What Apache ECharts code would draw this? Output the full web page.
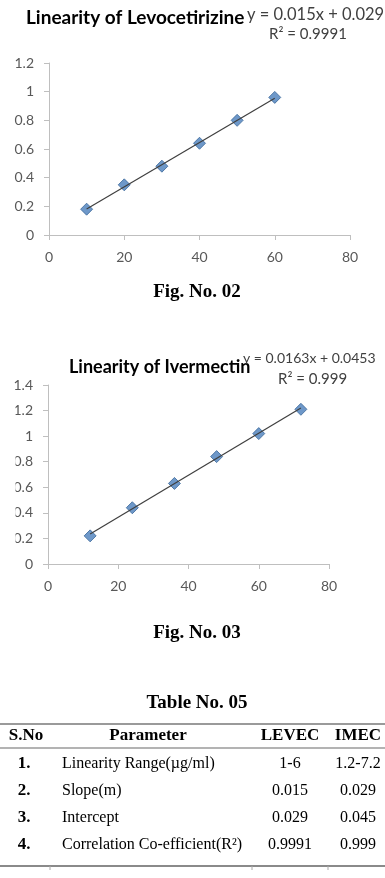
<!DOCTYPE html>
<html>
<head>
<meta charset="utf-8">
<script src="https://cdn.jsdelivr.net/npm/echarts@6/dist/echarts.min.js"></script>
<style>
html,body{margin:0;padding:0;background:#fff;}
#main{width:385px;height:878px;}
</style>
</head>
<body>
<div id="main"></div>
<script>
/* Linearity plots (Fig 02, Fig 03) + Table No. 05 */
var levoConc = [10, 20, 30, 40, 50, 60];
var levoAbs = [0.18, 0.35, 0.48, 0.64, 0.80, 0.96];
var iverConc = [12, 24, 36, 48, 60, 72];
var iverAbs = [0.22, 0.44, 0.63, 0.84, 1.02, 1.21];

var levoEq = ['y = 0.015x + 0.029', 'R\u00b2 = 0.9991'];
var iverEq = ['y = 0.0163x + 0.0453', 'R\u00b2 = 0.999'];

var tableHead = ['S.No', 'Parameter', 'LEVEC', 'IMEC'];
var sNo = ['1.', '2.', '3.', '4.'];
var params = ['Linearity Range(\u00b5g/ml)', 'Slope(m)', 'Intercept', 'Correlation Co-efficient(R\u00b2)'];
var levecVals = ['1-6', '0.015', '0.029', '0.9991'];
var imecVals = ['1.2-7.2', '0.029', '0.045', '0.999'];

(function(){
  var c = echarts.init(document.getElementById('main'));
  var axisGrey = '#bfbfbf';
  var lab = '#595959';
  var blue = '#4a7ebb';
  var sans = 'Lato, "Open Sans", sans-serif';
  var serif = '"Liberation Serif", "DejaVu Serif", serif';

  // least squares trendline across the measured range
  function trend(xs, ys){
    var n = xs.length, sx = 0, sy = 0, sxy = 0, sxx = 0;
    for (var i = 0; i < n; i++) { sx += xs[i]; sy += ys[i]; sxy += xs[i]*ys[i]; sxx += xs[i]*xs[i]; }
    var m = (n*sxy - sx*sy) / (n*sxx - sx*sx);
    var b = (sy - m*sx) / n;
    return [[xs[0], m*xs[0] + b], [xs[n-1], m*xs[n-1] + b]];
  }
  function pairs(xs, ys){ return xs.map(function(x, i){ return [x, ys[i]]; }); }

  function xAx(idx){
    return {gridIndex: idx, type: 'value', min: 0, max: 80, interval: 20,
      axisLine: {lineStyle: {color: axisGrey}},
      axisTick: {show: true, length: 5, lineStyle: {color: axisGrey}},
      splitLine: {show: false},
      axisLabel: {color: lab, fontFamily: sans, fontSize: 14, margin: 15}};
  }
  function yAx(idx, max){
    return {gridIndex: idx, type: 'value', min: 0, max: max, interval: 0.2,
      axisLine: {show: true, lineStyle: {color: axisGrey}},
      axisTick: {show: true, length: 5, lineStyle: {color: axisGrey}},
      splitLine: {show: false},
      axisLabel: {color: lab, fontFamily: sans, fontSize: 14, margin: 15}};
  }
  function txt(x, y, s, font, align, color){
    return {type: 'text', x: x, y: y, z: 10,
      style: {text: s, font: font, fill: color || '#000', align: align || 'left', verticalAlign: 'middle'}};
  }
  function hline(y, w, color){
    return {type: 'line', z: 10, shape: {x1: 0, y1: y, x2: 385, y2: y}, style: {stroke: color, lineWidth: w}};
  }

  var eqCol = '#404040';
  var capFont = 'bold 19px ' + serif;
  var g = [
    txt(26, 18, 'Linearity of Levocetirizine', 'bold 19px ' + sans),
    txt(69, 367, 'Linearity of Ivermectin', 'bold 18px ' + sans),
    txt(247, 15, levoEq[0], '16.5px ' + sans, 'left', eqCol),
    txt(269, 34, levoEq[1], '15px ' + sans, 'left', eqCol),
    txt(243, 358, iverEq[0], '14px ' + sans, 'left', eqCol),
    txt(278, 379, iverEq[1], '15px ' + sans, 'left', eqCol),
    txt(197, 292, 'Fig. No. 02', capFont, 'center'),
    txt(197, 633, 'Fig. No. 03', capFont, 'center'),
    txt(197, 703, 'Table No. 05', capFont, 'center'),
    // left crop of the second figure
    {type: 'rect', z: 20, shape: {x: 0, y: 395, width: 15.5, height: 180}, style: {fill: '#fff'}},
    hline(724, 2, '#9a9a9a'),
    hline(748, 1.5, '#9a9a9a'),
    hline(866, 2, '#8a8a8a')
  ];

  var headFont = 'bold 17px ' + serif;
  var bodyFont = '16px ' + serif;
  var colX = [26, 148, 290, 358];
  tableHead.forEach(function(h, i){ g.push(txt(colX[i], 736, h, headFont, 'center')); });
  sNo.forEach(function(s, i){
    var y = 764 + i*27;
    g.push(txt(24, y, s, headFont, 'center'));
    g.push(txt(62, y, params[i], bodyFont, 'left'));
    g.push(txt(290, y, levecVals[i], bodyFont, 'center'));
    g.push(txt(358, y, imecVals[i], bodyFont, 'center'));
  });
  [50, 252, 328].forEach(function(x){
    g.push({type: 'line', z: 10, shape: {x1: x, y1: 866, x2: x, y2: 870}, style: {stroke: '#aaa', lineWidth: 1}});
  });

  function scat(idx, xs, ys){
    return {type: 'scatter', xAxisIndex: idx, yAxisIndex: idx, data: pairs(xs, ys),
      symbol: 'diamond', symbolSize: 12, z: 3,
      itemStyle: {color: blue, borderColor: '#3a6699', borderWidth: 1}};
  }
  function fitLine(idx, xs, ys){
    return {type: 'line', xAxisIndex: idx, yAxisIndex: idx, data: trend(xs, ys),
      showSymbol: false, symbol: 'none', z: 4, silent: true,
      lineStyle: {color: '#3f3f3f', width: 1.2}};
  }

  c.setOption({
    animation: false,
    backgroundColor: '#fff',
    grid: [
      {left: 49, top: 63, width: 301, height: 172},
      {left: 48, top: 385, width: 281, height: 179}
    ],
    xAxis: [xAx(0), xAx(1)],
    yAxis: [yAx(0, 1.2), yAx(1, 1.4)],
    series: [
      scat(0, levoConc, levoAbs), fitLine(0, levoConc, levoAbs),
      scat(1, iverConc, iverAbs), fitLine(1, iverConc, iverAbs)
    ],
    graphic: g
  });
  window.addEventListener('resize', function(){ c.resize(); });
})();
</script>
</body>
</html>
